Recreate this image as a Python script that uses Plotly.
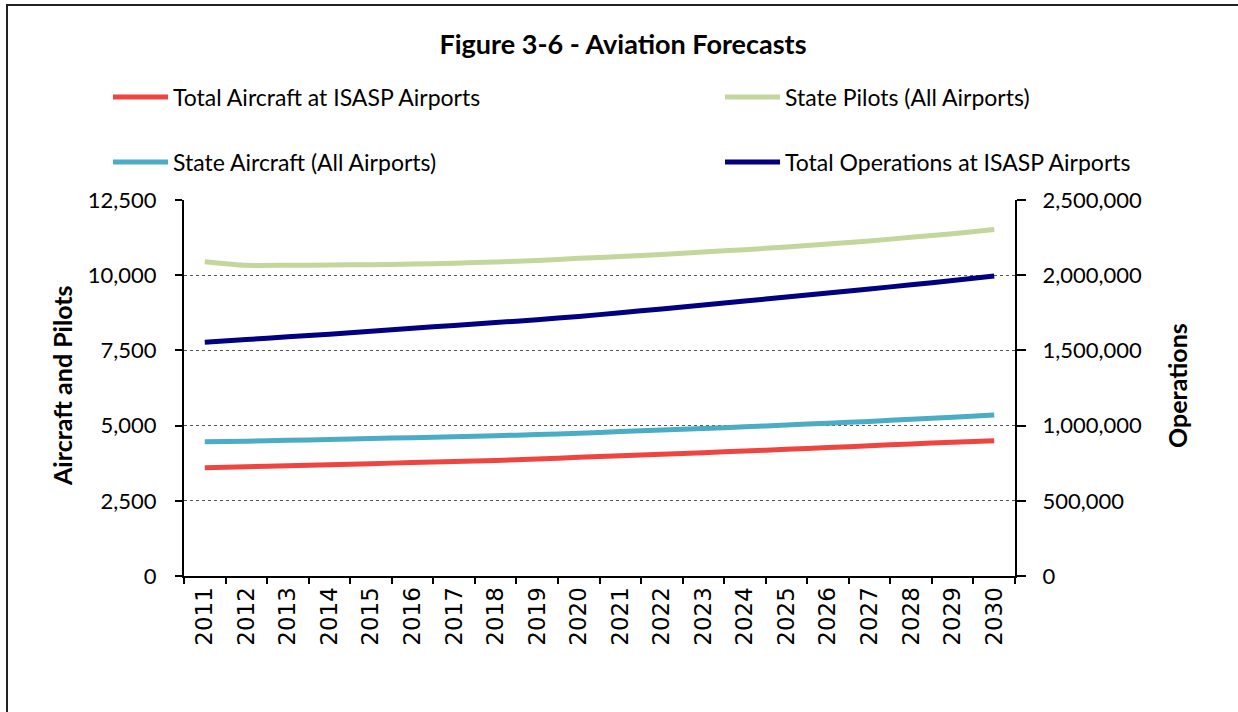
import plotly.graph_objects as go

# Forecast years and series
years = [str(y) for y in range(2011, 2031)]

total_aircraft = [3600, 3630, 3665, 3700, 3735, 3770, 3805, 3840, 3890, 3945,
                  3995, 4045, 4100, 4155, 4210, 4270, 4330, 4390, 4445, 4500]
state_pilots = [10450, 10330, 10330, 10340, 10350, 10370, 10400, 10440, 10490, 10560,
                10620, 10690, 10770, 10850, 10940, 11040, 11140, 11260, 11380, 11520]
state_aircraft = [4465, 4480, 4510, 4540, 4570, 4600, 4630, 4665, 4700, 4745,
                  4800, 4850, 4900, 4960, 5020, 5080, 5140, 5210, 5280, 5350]
total_operations = [1555000, 1572000, 1590000, 1608000, 1628000, 1647000, 1666000,
                    1685000, 1704000, 1726000, 1750000, 1776000, 1802000, 1828000,
                    1855000, 1882000, 1909000, 1936000, 1964000, 1994000]

left_ticks = [0, 2500, 5000, 7500, 10000, 12500]
right_ticks = [0, 500000, 1000000, 1500000, 2000000, 2500000]

RED = "#EE4540"
GREEN = "#C3D69B"
TEAL = "#4BACC6"
NAVY = "#000080"

FONT = "Lato"
W, H = 1238, 712
L, R, T, B = 184, 223, 200, 136
PW, PH = W - L - R, H - T - B


def px_x(px):
    return (px - L) / PW


def px_y(py):
    return (H - B - py) / PH


fig = go.Figure()


def line(color):
    return dict(color=color, width=5, shape="spline", smoothing=0.6)


fig.add_trace(go.Scatter(x=years, y=total_aircraft, mode="lines",
                         name="Total Aircraft at ISASP Airports",
                         line=line(RED), legend="legend"))
fig.add_trace(go.Scatter(x=years, y=state_pilots, mode="lines",
                         name="State Pilots (All Airports)",
                         line=line(GREEN), legend="legend2"))
fig.add_trace(go.Scatter(x=years, y=state_aircraft, mode="lines",
                         name="State Aircraft (All Airports)",
                         line=line(TEAL), legend="legend3"))
fig.add_trace(go.Scatter(x=years, y=total_operations, mode="lines",
                         name="Total Operations at ISASP Airports",
                         line=line(NAVY), legend="legend4", yaxis="y2"))


def legend_box(px, py):
    # one single-entry legend box anchored at a pixel position
    return dict(
        x=px / W, y=1 - py / H, xref="container", yref="container",
        xanchor="left", yanchor="middle", itemwidth=55,
        font=dict(family=FONT, size=23, color="#000"),
        bgcolor="rgba(0,0,0,0)", borderwidth=0,
    )


fig.update_layout(
    width=W, height=H,
    margin=dict(l=L, r=R, t=T, b=B, autoexpand=False),
    paper_bgcolor="white", plot_bgcolor="white",
    font=dict(family=FONT, size=22, color="#000"),
    title=dict(text="<b>Figure 3-6 - Aviation Forecasts</b>",
               x=623 / W, xref="container", xanchor="center",
               y=1 - 45 / H, yref="container", yanchor="middle",
               font=dict(family=FONT, size=27, color="#000")),
    legend=legend_box(108, 97),
    legend2=legend_box(720, 97),
    legend3=legend_box(108, 162),
    legend4=legend_box(720, 162),
    xaxis=dict(
        type="category", range=[-0.5, 19.5],
        showline=True, linecolor="#000", linewidth=2,
        ticks="outside", tickson="boundaries", ticklen=6, tickcolor="#000", tickwidth=1.5,
        tickangle=-90, tickfont=dict(family="DejaVu Sans", size=23, color="#000"),
        showgrid=False, automargin=False,
    ),
    yaxis=dict(
        range=[0, 12500], tickvals=left_ticks, tickformat=",d",
        showline=True, linecolor="#000", linewidth=2,
        ticks="outside", ticklen=7, tickcolor="#000", tickwidth=1.5,
        ticklabelstandoff=14,
        showgrid=True, gridcolor="#555", griddash="dot", gridwidth=1,
        zeroline=False, automargin=False,
    ),
    yaxis2=dict(
        overlaying="y", side="right",
        range=[0, 2500000], tickvals=right_ticks, tickformat=",d",
        showline=True, linecolor="#000", linewidth=2,
        ticks="outside", ticklen=9, tickcolor="#000", tickwidth=1.5,
        ticklabelstandoff=12,
        showgrid=False, zeroline=False, automargin=False,
    ),
    annotations=[
        dict(text="<b>Aircraft and Pilots</b>", textangle=-90,
             xref="paper", yref="paper", x=px_x(62), y=px_y(386),
             xanchor="center", yanchor="middle", showarrow=False,
             font=dict(family=FONT, size=25, color="#000")),
        dict(text="<b>Operations</b>", textangle=-90,
             xref="paper", yref="paper", x=px_x(1177), y=px_y(386),
             xanchor="center", yanchor="middle", showarrow=False,
             font=dict(family=FONT, size=25, color="#000")),
    ],
    shapes=[
        # outer chart frame
        dict(type="rect", xref="paper", yref="paper",
             x0=px_x(7), y0=px_y(5), x1=px_x(W + 20), y1=px_y(H + 20),
             line=dict(color="#222", width=2), layer="below"),
    ],
    showlegend=True,
)

fig.write_html("out.html")
